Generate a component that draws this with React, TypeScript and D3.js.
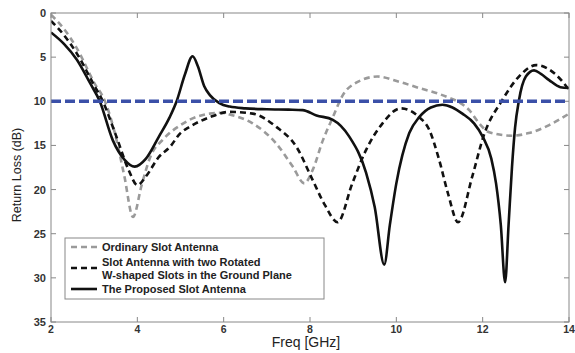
import React from "react";
import * as d3 from "d3";

const freqOrdinary = [2, 2.3, 2.6, 3.0, 3.25, 3.5, 3.7, 3.9, 4.1, 4.3, 4.6, 5.0, 5.21, 5.68, 5.95, 6.14, 6.67, 7.22, 7.6, 7.87, 8.06, 8.3, 8.53, 8.76, 9.07, 9.56, 10.07, 10.53, 10.95, 11.22, 11.45, 11.69, 11.92, 12.15, 12.68, 13.07, 13.54, 14];
const lossOrdinary = [0.2, 1.8, 4.0, 7.9, 10, 14, 18.5, 23.1, 19.5, 16.3, 14.3, 12.7, 12.1, 11.4, 11.3, 11.5, 12.5, 14.8, 17.4, 19.3, 17.8, 14.4, 11.8, 9.3, 7.9, 7.2, 7.8, 8.5, 9.1, 9.6, 10.1, 11.0, 12.5, 13.5, 13.9, 13.6, 12.7, 11.4];

const freqRotated = [2, 2.3, 2.6, 3.0, 3.2, 3.5, 3.8, 4.0, 4.2, 4.5, 4.75, 5.0, 5.21, 5.68, 6.14, 6.67, 7.22, 7.69, 8.06, 8.35, 8.64, 8.98, 9.3, 9.68, 10.1, 10.53, 10.76, 10.99, 11.2, 11.43, 11.76, 12.03, 12.45, 12.84, 13.24, 13.7, 14];
const lossRotated = [0.9, 2.5, 4.6, 8.2, 10, 13.8, 17.8, 19.5, 18.5, 16.3, 15.2, 13.6, 12.9, 11.8, 11.2, 11.4, 12.9, 15.2, 18.9, 21.8, 23.7, 19.3, 15.5, 12.5, 10.8, 11.8, 13.2, 16.6, 20.5, 23.7, 18.5, 13.8, 9.9, 7.2, 5.9, 7.0, 8.7];

const freqProposed = [2, 2.3, 2.6, 2.9, 3.13, 3.43, 3.7, 3.94, 4.2, 4.5, 4.75, 4.91, 5.1, 5.28, 5.4, 5.55, 5.68, 5.9, 6.14, 6.5, 7.0, 7.5, 7.83, 8.15, 8.53, 8.91, 9.3, 9.5, 9.72, 9.85, 10.0, 10.3, 10.53, 10.8, 11.07, 11.3, 11.53, 11.8, 12.0, 12.2, 12.31, 12.42, 12.52, 12.6, 12.68, 12.75, 12.84, 13.0, 13.19, 13.35, 13.54, 13.8, 14];
const lossProposed = [2.2, 3.5, 5.3, 7.9, 10, 14.4, 16.6, 17.4, 16.5, 14, 11.8, 10, 7, 4.9, 6.0, 8.3, 9.3, 10.2, 10.6, 10.8, 10.9, 10.95, 11.0, 11.6, 12.1, 14, 18.1, 22, 28.5, 24, 19.3, 13.6, 11.8, 10.7, 10.4, 10.7, 11.4, 12.5, 14, 16.5, 19.3, 24, 30.5, 24, 17.4, 13, 9.9, 7.2, 6.5, 6.9, 7.6, 8.4, 8.5];

const thresholdLoss = 10;
const xTicks = [2, 4, 6, 8, 10, 12, 14];
const yTicks = [0, 5, 10, 15, 20, 25, 30, 35];
const legendLabels = [
  ["Ordinary Slot Antenna"],
  ["Slot Antenna with two Rotated", "W-shaped Slots in the Ground Plane"],
  ["The Proposed Slot Antenna"],
];

export default function App() {
  const W = 575, H = 353;
  const L = 51, R = 569, T = 13, B = 322;
  const x = d3.scaleLinear().domain([2, 14]).range([L, R]);
  const y = d3.scaleLinear().domain([0, 35]).range([T, B]);
  const mk = (fs: number[], ls: number[]) =>
    d3.line<number>().x((_, i) => x(fs[i])).y((v) => y(v)).curve(d3.curveMonotoneX)(ls) || "";

  const series = [
    { d: mk(freqOrdinary, lossOrdinary), stroke: "#9a9a9a", dash: "6,4" },
    { d: mk(freqRotated, lossRotated), stroke: "#111", dash: "6,4" },
    { d: mk(freqProposed, lossProposed), stroke: "#111", dash: undefined },
  ];
  const font = "Arial, 'Liberation Sans', sans-serif";

  return (
    <svg width={W} height={H} style={{ position: "absolute", left: 0, top: 0, background: "#fff" }} fontFamily={font}>
      <defs>
        <clipPath id="plot">
          <rect x={L} y={T} width={R - L} height={B - T} />
        </clipPath>
      </defs>
      <rect x={0} y={0} width={W} height={H} fill="#fff" />
      {xTicks.map((t) => (
        <g key={"x" + t}>
          <line x1={x(t)} x2={x(t)} y1={B} y2={B - 5} stroke="#888" />
          <line x1={x(t)} x2={x(t)} y1={T} y2={T + 5} stroke="#888" />
          <text x={x(t)} y={B + 11} textAnchor="middle" fontSize={10.5} fontWeight="bold" fill="#333">{t}</text>
        </g>
      ))}
      {yTicks.map((t) => (
        <g key={"y" + t}>
          <line x1={L} x2={L + 5} y1={y(t)} y2={y(t)} stroke="#888" />
          <line x1={R} x2={R - 5} y1={y(t)} y2={y(t)} stroke="#888" />
          <text x={L - 5} y={y(t) + 4} textAnchor="end" fontSize={11} fontWeight="bold" fill="#333">{t}</text>
        </g>
      ))}
      <g clipPath="url(#plot)">
        {series.map((s, i) => (
          <path key={i} d={s.d} fill="none" stroke={s.stroke} strokeWidth={2.6} strokeDasharray={s.dash} />
        ))}
        <line x1={L} x2={R} y1={y(thresholdLoss)} y2={y(thresholdLoss)} stroke="#3b50a8" strokeWidth={3.5} strokeDasharray="10,4" />
      </g>
      <rect x={L} y={T} width={R - L} height={B - T} fill="none" stroke="#888" />
      <text transform={`translate(21,175) rotate(-90)`} textAnchor="middle" fontSize={12.5} fill="#222">Return Loss (dB)</text>
      <text x={306} y={347} textAnchor="middle" fontSize={14} fill="#222">Freq [GHz]</text>
      <g>
        <rect x={65} y={238} width={259} height={61} fill="#fff" stroke="#888" />
        <line x1={71} x2={97} y1={247} y2={247} stroke="#9a9a9a" strokeWidth={2.6} strokeDasharray="6,4" />
        <line x1={71} x2={97} y1={268} y2={268} stroke="#111" strokeWidth={2.6} strokeDasharray="6,4" />
        <line x1={71} x2={97} y1={289} y2={289} stroke="#111" strokeWidth={2.6} />
        <text x={102} y={251} fontSize={11} fontWeight="bold" fill="#222">{legendLabels[0][0]}</text>
        <text x={102} y={266} fontSize={11} fontWeight="bold" fill="#222">{legendLabels[1][0]}</text>
        <text x={102} y={279} fontSize={11} fontWeight="bold" fill="#222">{legendLabels[1][1]}</text>
        <text x={102} y={293} fontSize={11} fontWeight="bold" fill="#222">{legendLabels[2][0]}</text>
      </g>
    </svg>
  );
}
